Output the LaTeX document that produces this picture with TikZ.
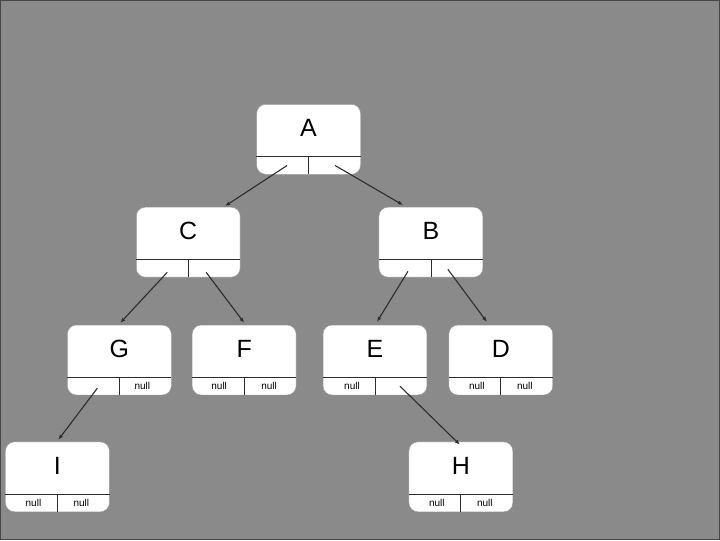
\documentclass[tikz,border=0pt]{standalone}
\usepackage{fontspec}
\setmainfont{Liberation Sans}
\usetikzlibrary{arrows.meta, positioning}
\definecolor{bgray}{RGB}{138,138,138}
\definecolor{edgec}{RGB}{70,70,70}
\definecolor{linec}{RGB}{45,45,45}
\tikzset{
  tbox/.style ={rectangle, rounded corners=9pt, draw=black!40, fill=white, minimum width=104pt, minimum height=70pt, inner sep=0pt},
  ltr/.style  ={font=\fontsize{25}{28}\selectfont, inner sep=0pt},
  nl/.style   ={font=\fontsize{10}{12}\selectfont, inner sep=0pt},
  sep/.style  ={draw=linec, line width=0.8pt},
  fl/.style   ={-{Latex[length=5pt, width=4pt]}, draw=linec, line width=1.1pt},
}
\begin{document}
\begin{tikzpicture}[x=1pt, y=-1pt]
  \fill[bgray] (0,0) rectangle (720,540);
  \draw[edgec, line width=1pt] (0,0) rectangle (720,540);
  \useasboundingbox (0,0) rectangle (720,540);
  % tree nodes
  \foreach \n/\p in {A/{308.5,139}, C/{188,242}, B/{431,242}, G/{119,360}, F/{244,360},
                     E/{375,360}, D/{501,360}, I/{57,477}, H/{461,477}} {
    \node[tbox] (\n) at (\p) {};
    \node[ltr] (\n-t) at ([yshift=11pt]\n.center) {\n};
    \draw[sep] ([yshift=18pt]\n.south west) -- ([yshift=18pt]\n.south east);
    \draw[sep] ([yshift=18pt]\n.south) -- (\n.south);
  }
  % null pointers
  \foreach \n/\s/\dx in {G/r/23, F/l/-25, F/r/25, E/l/-23, D/l/-24, D/r/24,
                         I/l/-24, I/r/24, H/l/-24, H/r/24} {
    \node[nl] (\n-\s) at ([xshift=\dx pt, yshift=9pt]\n.south) {null};
  }
  % links
  \draw[fl] ([xshift=-21.5pt, yshift=9pt]A.south) -- ([xshift=37pt, yshift=1pt]C.north);
  \draw[fl] ([xshift=26.5pt, yshift=9pt]A.south) -- ([xshift=-28pt, yshift=2pt]B.north);
  \draw[fl] ([xshift=-21pt, yshift=5pt]C.south) -- ([xshift=1pt, yshift=2pt]G.north);
  \draw[fl] ([xshift=18pt, yshift=5pt]C.south) -- ([yshift=2pt]F.north);
  \draw[fl] ([xshift=-23pt, yshift=6pt]B.south) -- ([xshift=2pt, yshift=3pt]E.north);
  \draw[fl] ([xshift=17pt, yshift=8pt]B.south) -- ([xshift=-14pt, yshift=3pt]D.north);
  \draw[fl] ([xshift=-22pt, yshift=7pt]G.south) -- ([xshift=1pt, yshift=2pt]I.north);
  \draw[fl] ([xshift=25pt, yshift=9pt]E.south) -- ([xshift=-1pt, yshift=-3pt]H.north);
\end{tikzpicture}
\end{document}
